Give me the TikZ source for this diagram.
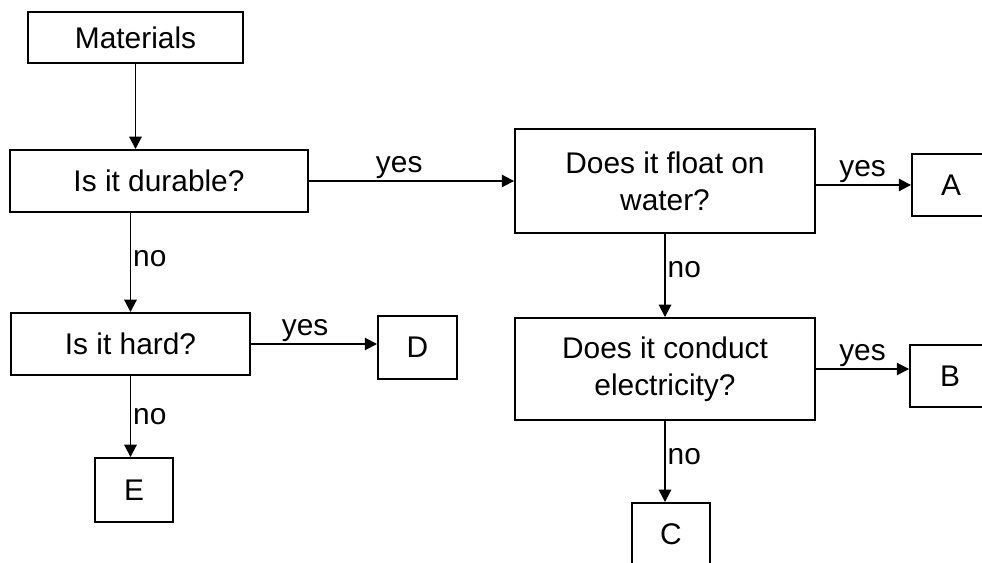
\documentclass[tikz,border=0pt]{standalone}
\usepackage{fontspec}
\setmainfont{Liberation Sans}
\usetikzlibrary{arrows.meta}
\begin{document}
\begin{tikzpicture}[x=0.02cm,y=-0.02cm,
  box/.style={draw,line width=1.1pt,inner sep=0pt,align=center,font=\fontsize{17}{21}\selectfont},
  conn/.style={line width=1.1pt,-{Triangle[length=7pt,width=7pt]}},
  lab/.style={font=\fontsize{17}{21}\selectfont,inner sep=1pt}]
\useasboundingbox (0,0) rectangle (982,563);
\node[box,minimum width=4.3cm,minimum height=1.02cm] (mat) at (135.5,37.5) {Materials};
\node[box,minimum width=5.96cm,minimum height=1.24cm] (dur) at (159,181) {Is it durable?};
\node[box,minimum width=4.78cm,minimum height=1.24cm] (hard) at (130.5,344) {Is it hard?};
\node[box,minimum width=1.58cm,minimum height=1.26cm] (D) at (417.5,347.5) {D};
\node[box,minimum width=1.56cm,minimum height=1.28cm] (E) at (134,490) {E};
\node[box,minimum width=6.0cm,minimum height=2.08cm] (float) at (665,181) {Does it float on\\water?};
\node[box,minimum width=1.56cm,minimum height=1.24cm] (A) at (951,185) {A};
\node[box,minimum width=6.0cm,minimum height=2.04cm] (cond) at (665,369) {Does it conduct\\electricity?};
\node[box,minimum width=1.6cm,minimum height=1.24cm] (B) at (950,376) {B};
\node[box,minimum width=1.56cm,minimum height=1.24cm] (C) at (671,534) {C};

\draw[conn] (mat.south) -- (mat.south |- dur.north);
\draw[conn] (dur.east) -- node[lab,pos=0.44,anchor=south] {yes} (dur.east -| float.west);
\draw[conn] (dur.south -| hard.north) -- node[lab,pos=0.46,anchor=west] {no} (hard.north);
\draw[conn] (hard.east) -- node[lab,pos=0.43,anchor=south] {yes} (hard.east -| D.west);
\draw[conn] (hard.south) -- node[lab,pos=0.5,anchor=west] {no} (hard.south |- E.north);
\draw[conn] (float.east |- A.west) -- node[lab,pos=0.49,anchor=south] {yes} (A.west);
\draw[conn] (float.south) -- node[lab,pos=0.43,anchor=west] {no} (cond.north);
\draw[conn] (cond.east) -- node[lab,pos=0.5,anchor=south] {yes} (cond.east -| B.west);
\draw[conn] (cond.south) -- node[lab,pos=0.44,anchor=west] {no} (cond.south |- C.north);
\end{tikzpicture}
\end{document}
